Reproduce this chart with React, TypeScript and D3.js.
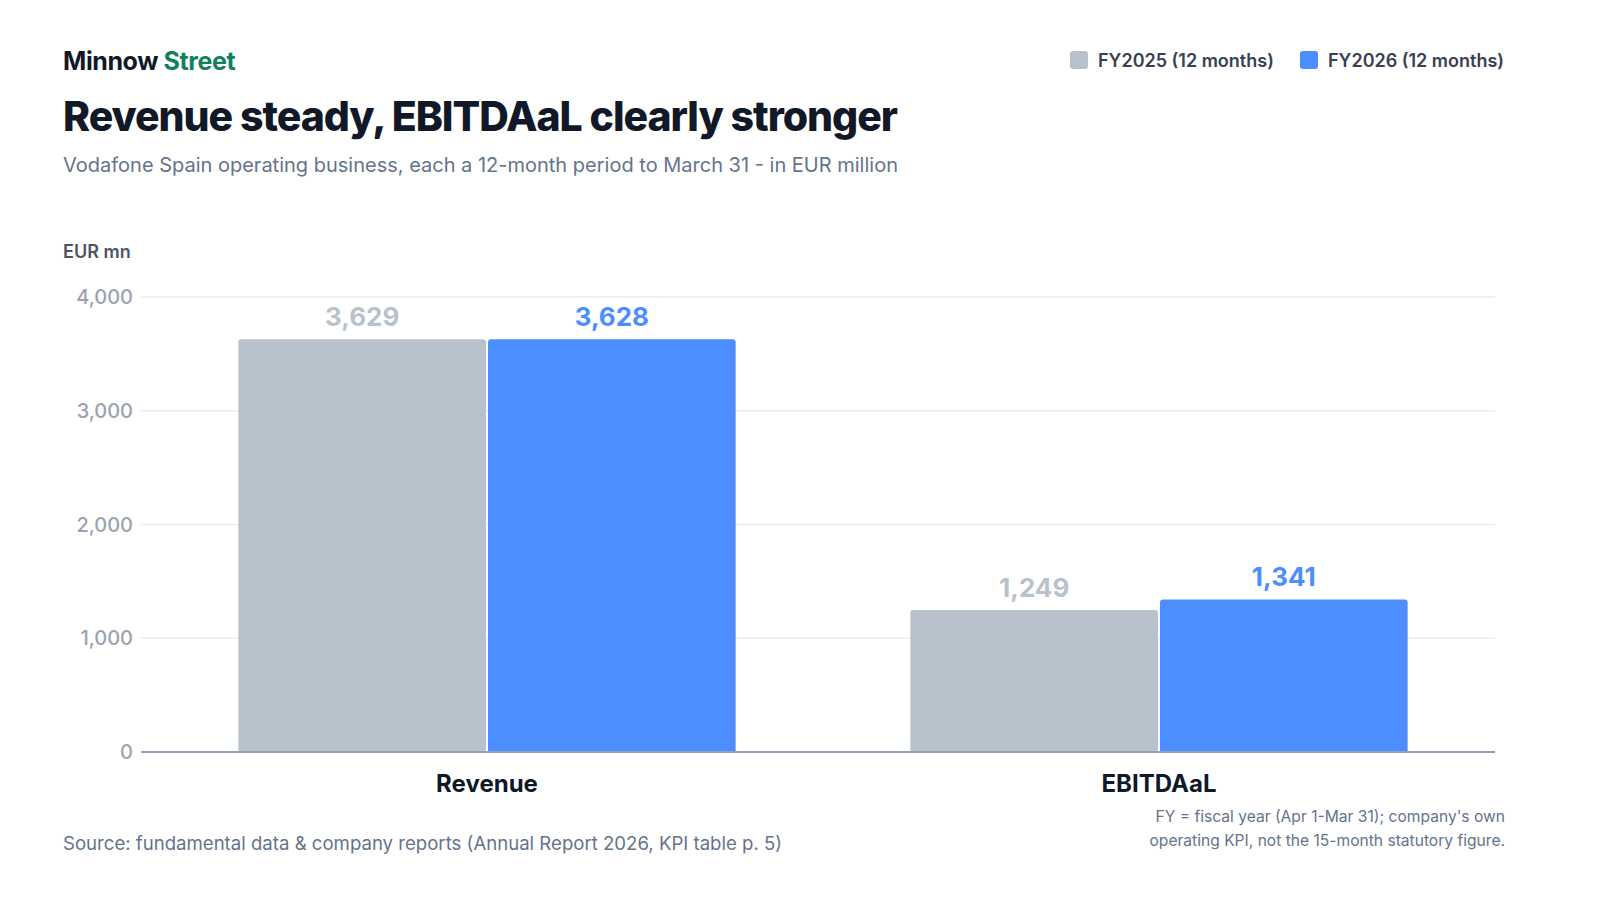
import { useEffect } from "react";
import * as d3 from "d3";

const categories = ["Revenue", "EBITDAaL"];
const seriesNames = ["FY2025 (12 months)", "FY2026 (12 months)"];
const fy2025 = [3629, 1249];
const fy2026 = [3628, 1341];
const yTicks = [0, 1000, 2000, 3000, 4000];

const barColors = ["#b8c2cc", "#4c8dff"];
const labelColors = ["#b8c2cc", "#4c8dff"];
const font = "Inter, 'Noto Sans', sans-serif";

const W = 1600;
const H = 900;
const plotLeft = 141;
const plotRight = 1495;
const plotTop = 297;
const plotBottom = 752;

// rounded-top bar path
function barPath(x: number, y: number, w: number, h: number, r: number) {
  const rr = Math.min(r, h / 2, w / 2);
  return `M${x},${y + h}V${y + rr}Q${x},${y} ${x + rr},${y}H${x + w - rr}Q${x + w},${y} ${x + w},${y + rr}V${y + h}Z`;
}

export default function App() {
  useEffect(() => {
    document.body.style.margin = "0";
  }, []);

  const values = [fy2025, fy2026];

  const x0 = d3
    .scaleBand<string>()
    .domain(categories)
    .range([151, plotRight])
    .paddingInner(0.26)
    .paddingOuter(0.13);

  const x1 = d3
    .scaleBand<string>()
    .domain(seriesNames)
    .range([0, x0.bandwidth()])
    .paddingInner(0.008);

  const y = d3.scaleLinear().domain([0, 4000]).range([plotBottom, plotTop]);
  const fmt = d3.format(",");

  return (
    <svg width={W} height={H} style={{ display: "block", background: "#fff" }}>
      {/* header */}
      <text x={63} y={70} fontFamily={font} fontSize={25} fontWeight={700} letterSpacing={-0.4}>
        <tspan fill="#111827">Minnow </tspan>
        <tspan fill="#12805c">Street</tspan>
      </text>
      <text x={63} y={131} fontFamily={font} fontSize={41} fontWeight={800} fill="#111827" letterSpacing={-1.05}>
        Revenue steady, EBITDAaL clearly stronger
      </text>
      <text x={63} y={172} fontFamily={font} fontSize={20} fill="#64748b">
        Vodafone Spain operating business, each a 12-month period to March 31 - in EUR million
      </text>

      {/* legend */}
      {seriesNames.map((s, i) => {
        const lx = i === 0 ? 1070 : 1300;
        return (
          <g key={s}>
            <rect x={lx} y={51} width={18} height={18} rx={3} fill={barColors[i]} />
            <text x={lx + 28} y={67} fontFamily={font} fontSize={18} fontWeight={600} fill="#374151">
              {s}
            </text>
          </g>
        );
      })}

      {/* y axis label */}
      <text x={63} y={258} fontFamily={font} fontSize={18} fontWeight={600} fill="#4b5563">
        EUR mn
      </text>

      {/* grid + ticks */}
      {yTicks.map((t) => (
        <g key={t}>
          {t > 0 && (
            <line x1={plotLeft} x2={plotRight} y1={y(t)} y2={y(t)} stroke="#e8ebef" strokeWidth={1.5} />
          )}
          <text
            x={133}
            y={y(t)}
            dy="0.35em"
            textAnchor="end"
            fontFamily={font}
            fontSize={20}
            fontWeight={500}
            fill="#9ca3af"
          >
            {fmt(t)}
          </text>
        </g>
      ))}

      {/* bars */}
      {categories.map((c, ci) => (
        <g key={c} transform={`translate(${x0(c)},0)`}>
          {seriesNames.map((s, si) => {
            const v = values[si][ci];
            const bx = x1(s) as number;
            const by = y(v);
            return (
              <g key={s}>
                <path d={barPath(bx, by, x1.bandwidth(), plotBottom - by, 3)} fill={barColors[si]} />
                <text
                  x={bx + x1.bandwidth() / 2}
                  y={by - 13}
                  textAnchor="middle"
                  fontFamily={font}
                  fontSize={26}
                  fontWeight={700}
                  fill={labelColors[si]}
                >
                  {fmt(v)}
                </text>
              </g>
            );
          })}
          <text
            x={x0.bandwidth() / 2}
            y={792}
            textAnchor="middle"
            fontFamily={font}
            fontSize={24}
            fontWeight={700}
            fill="#111827"
          >
            {c}
          </text>
        </g>
      ))}

      {/* baseline */}
      <line x1={plotLeft} x2={plotRight} y1={y(0)} y2={y(0)} stroke="#94a3b8" strokeWidth={2} />

      {/* footer */}
      <text x={63} y={850} fontFamily={font} fontSize={18.6} fill="#64748b">
        Source: fundamental data &amp; company reports (Annual Report 2026, KPI table p. 5)
      </text>
      <text x={1505} y={822} textAnchor="end" fontFamily={font} fontSize={15.6} fill="#64748b">
        FY = fiscal year (Apr 1-Mar 31); company's own
      </text>
      <text x={1505} y={846} textAnchor="end" fontFamily={font} fontSize={15.6} fill="#64748b">
        operating KPI, not the 15-month statutory figure.
      </text>
    </svg>
  );
}
